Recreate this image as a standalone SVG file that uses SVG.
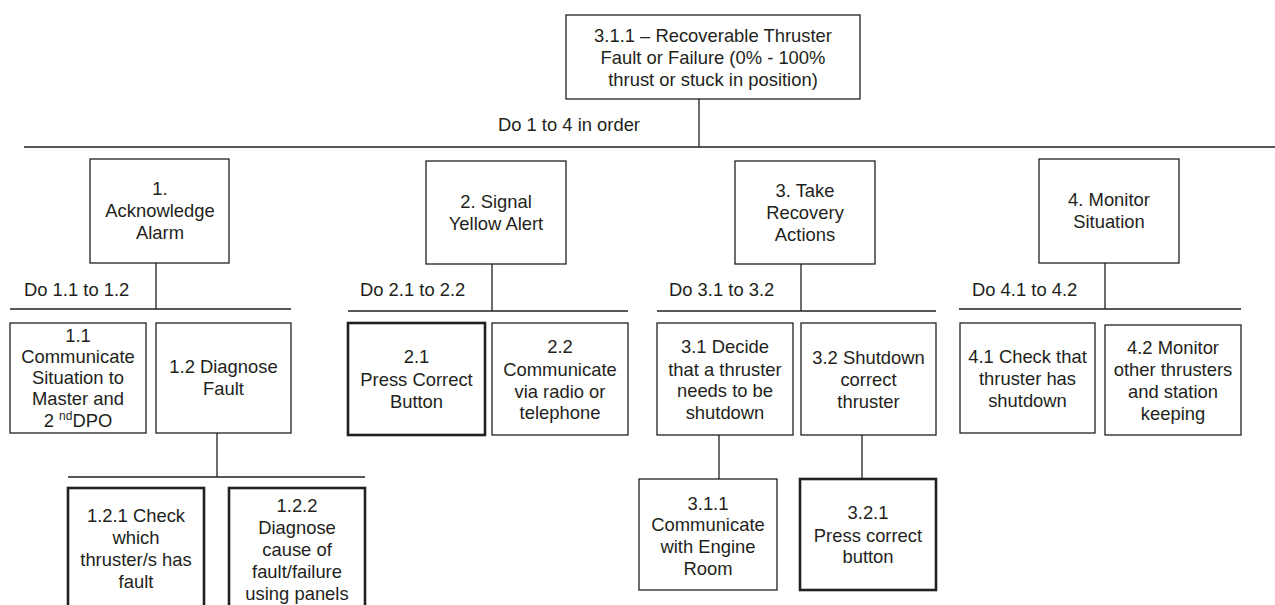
<svg xmlns="http://www.w3.org/2000/svg" width="1275" height="605" viewBox="0 0 1275 605">
<style>
  .box { fill: #ffffff; stroke: #231f20; stroke-width: 1.3; }
  .thick { fill: #ffffff; stroke: #231f20; stroke-width: 2.6; }
  .ln { stroke: #231f20; stroke-width: 1.3; fill: none; }
  text { font-family: "Liberation Sans", Arial, sans-serif; font-size: 18.4px; fill: #231f20; }
  .c { text-anchor: middle; }
  .sup { font-size: 12px; }
</style>
<rect width="1275" height="605" fill="#ffffff"/>
<g id="connectors">
  <line class="ln" x1="699" y1="99" x2="699" y2="147"/>
  <line class="ln" x1="24" y1="147" x2="1275" y2="147"/>
  <line class="ln" x1="156" y1="263" x2="156" y2="309"/>
  <line class="ln" x1="10" y1="309" x2="291" y2="309"/>
  <line class="ln" x1="492" y1="264" x2="492" y2="311"/>
  <line class="ln" x1="348" y1="311" x2="628" y2="311"/>
  <line class="ln" x1="801" y1="264" x2="801" y2="311"/>
  <line class="ln" x1="657" y1="311" x2="936" y2="311"/>
  <line class="ln" x1="1105" y1="263" x2="1105" y2="309"/>
  <line class="ln" x1="959" y1="309" x2="1241" y2="309"/>
  <line class="ln" x1="217" y1="433" x2="217" y2="477"/>
  <line class="ln" x1="68" y1="477" x2="365" y2="477"/>
  <line class="ln" x1="719" y1="435" x2="719" y2="479"/>
  <line class="ln" x1="862" y1="435" x2="862" y2="479"/>
  <text x="640" y="131" text-anchor="end">Do 1 to 4 in order</text>
  <text x="24" y="296">Do 1.1 to 1.2</text>
  <text x="360" y="296">Do 2.1 to 2.2</text>
  <text x="669" y="296">Do 3.1 to 3.2</text>
  <text x="972" y="296">Do 4.1 to 4.2</text>
</g>
<g id="n_root">
  <rect class="box" x="566" y="15" width="294" height="84"/>
  <text class="c" x="713" y="42">3.1.1 – Recoverable Thruster</text>
  <text class="c" x="713" y="64">Fault or Failure (0% - 100%</text>
  <text class="c" x="713" y="86">thrust or stuck in position)</text>
</g>
<g id="n_1">
  <rect class="box" x="90" y="159" width="139" height="104"/>
  <text class="c" x="160" y="195">1.</text>
  <text class="c" x="160" y="217">Acknowledge</text>
  <text class="c" x="160" y="239">Alarm</text>
</g>
<g id="n_2">
  <rect class="box" x="426" y="161" width="140" height="103"/>
  <text class="c" x="496" y="208">2. Signal</text>
  <text class="c" x="496" y="230">Yellow Alert</text>
</g>
<g id="n_3">
  <rect class="box" x="735" y="161" width="140" height="103"/>
  <text class="c" x="805" y="197">3. Take</text>
  <text class="c" x="805" y="219">Recovery</text>
  <text class="c" x="805" y="241">Actions</text>
</g>
<g id="n_4">
  <rect class="box" x="1039" y="159" width="140" height="104"/>
  <text class="c" x="1109" y="206">4. Monitor</text>
  <text class="c" x="1109" y="228">Situation</text>
</g>
<g id="n_1_1">
  <rect class="box" x="10" y="323" width="136" height="110"/>
  <text class="c" x="78" y="342">1.1</text>
  <text class="c" x="78" y="363">Communicate</text>
  <text class="c" x="78" y="384">Situation to</text>
  <text class="c" x="78" y="405">Master and</text>
  <text class="c" x="78" y="427">2 <tspan class="sup" dy="-7">nd</tspan><tspan dy="7">DPO</tspan></text>
</g>
<g id="n_1_2">
  <rect class="box" x="156" y="323" width="135" height="110"/>
  <text class="c" x="223.5" y="373">1.2 Diagnose</text>
  <text class="c" x="223.5" y="395">Fault</text>
</g>
<g id="n_2_1">
  <rect class="thick" x="348" y="323" width="137" height="112"/>
  <text class="c" x="416.5" y="363">2.1</text>
  <text class="c" x="416.5" y="386">Press Correct</text>
  <text class="c" x="416.5" y="408">Button</text>
</g>
<g id="n_2_2">
  <rect class="box" x="492" y="323" width="136" height="112"/>
  <text class="c" x="560" y="353">2.2</text>
  <text class="c" x="560" y="376">Communicate</text>
  <text class="c" x="560" y="398">via radio or</text>
  <text class="c" x="560" y="419">telephone</text>
</g>
<g id="n_3_1">
  <rect class="box" x="657" y="323" width="136" height="112"/>
  <text class="c" x="725" y="353">3.1 Decide</text>
  <text class="c" x="725" y="376">that a thruster</text>
  <text class="c" x="725" y="397">needs to be</text>
  <text class="c" x="725" y="419">shutdown</text>
</g>
<g id="n_3_2">
  <rect class="box" x="801" y="323" width="135" height="112"/>
  <text class="c" x="868.5" y="364">3.2 Shutdown</text>
  <text class="c" x="868.5" y="386">correct</text>
  <text class="c" x="868.5" y="408">thruster</text>
</g>
<g id="n_4_1">
  <rect class="box" x="960" y="323" width="135" height="110"/>
  <text class="c" x="1027.5" y="363">4.1 Check that</text>
  <text class="c" x="1027.5" y="385">thruster has</text>
  <text class="c" x="1027.5" y="407">shutdown</text>
</g>
<g id="n_4_2">
  <rect class="box" x="1105" y="325" width="136" height="110"/>
  <text class="c" x="1173" y="354">4.2 Monitor</text>
  <text class="c" x="1173" y="376">other thrusters</text>
  <text class="c" x="1173" y="398">and station</text>
  <text class="c" x="1173" y="420">keeping</text>
</g>
<g id="n_1_2_1">
  <rect class="thick" x="68" y="488" width="136" height="140"/>
  <text class="c" x="136" y="522">1.2.1 Check</text>
  <text class="c" x="136" y="544">which</text>
  <text class="c" x="136" y="566">thruster/s has</text>
  <text class="c" x="136" y="588">fault</text>
</g>
<g id="n_1_2_2">
  <rect class="thick" x="229" y="488" width="136" height="140"/>
  <text class="c" x="297" y="512">1.2.2</text>
  <text class="c" x="297" y="534">Diagnose</text>
  <text class="c" x="297" y="556">cause of</text>
  <text class="c" x="297" y="578">fault/failure</text>
  <text class="c" x="297" y="600">using panels</text>
</g>
<g id="n_3_1_1">
  <rect class="box" x="639" y="479" width="138" height="111"/>
  <text class="c" x="708" y="510">3.1.1</text>
  <text class="c" x="708" y="531">Communicate</text>
  <text class="c" x="708" y="553">with Engine</text>
  <text class="c" x="708" y="575">Room</text>
</g>
<g id="n_3_2_1">
  <rect class="thick" x="800" y="479" width="136" height="111"/>
  <text class="c" x="868" y="519">3.2.1</text>
  <text class="c" x="868" y="542">Press correct</text>
  <text class="c" x="868" y="563">button</text>
</g>
</svg>
